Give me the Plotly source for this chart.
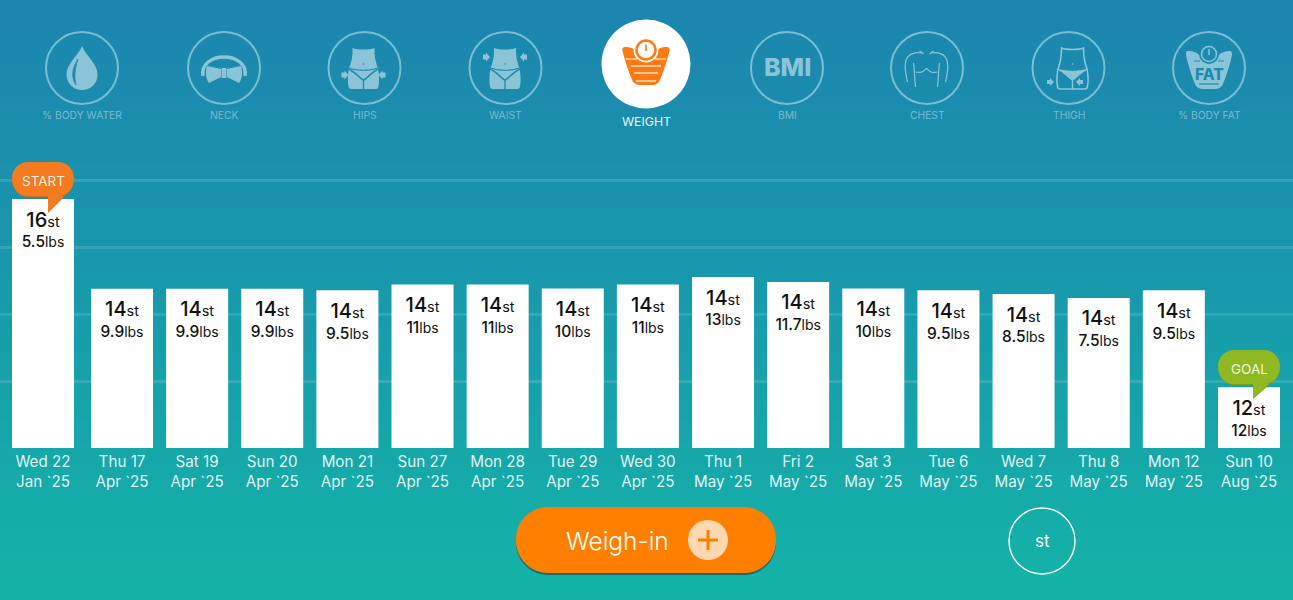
import numpy as np
import plotly.graph_objects as go

# ---- data ----
day_labels = ["Wed 22", "Thu 17", "Sat 19", "Sun 20", "Mon 21", "Sun 27", "Mon 28", "Tue 29", "Wed 30",
              "Thu 1", "Fri 2", "Sat 3", "Tue 6", "Wed 7", "Thu 8", "Mon 12", "Sun 10"]
month_labels = ["Jan `25", "Apr `25", "Apr `25", "Apr `25", "Apr `25", "Apr `25", "Apr `25", "Apr `25", "Apr `25",
                "May `25", "May `25", "May `25", "May `25", "May `25", "May `25", "May `25", "Aug `25"]
stones = [16, 14, 14, 14, 14, 14, 14, 14, 14, 14, 14, 14, 14, 14, 14, 14, 12]
pounds = [5.5, 9.9, 9.9, 9.9, 9.5, 11, 11, 10, 11, 13, 11.7, 10, 9.5, 8.5, 7.5, 9.5, 12]
icon_labels = ["% BODY WATER", "NECK", "HIPS", "WAIST", "WEIGHT", "BMI", "CHEST", "THIGH", "% BODY FAT"]

W, H = 1293, 600
totals = [s * 14 + p for s, p in zip(stones, pounds)]
PX_PER_LB = 3.8
BASE_LB = 164
BASE_PX = 448
TOP_PX = 170
FONT = "Inter"
PALE = "rgb(140,196,215)"
RING = "rgb(125,188,208)"
ORANGE = "#FF8000"

bar_x = [43] + [122 + 75.13 * i for i in range(15)] + [1249]
grid_vals = [BASE_LB + i * 66.8 / PX_PER_LB for i in range(5)]

def fmt(v):
    return f"{v:g}"

st_text = [f'<span style="font-size:20px;font-weight:500">{s}</span><span style="font-size:14.5px">st</span>' for s in stones]
lb_text = [f'<span style="font-size:15.5px;font-weight:500">{fmt(p)}</span><span style="font-size:14px">lbs</span>' for p in pounds]
tick_text = [f"{d}<br>{m}" for d, m in zip(day_labels, month_labels)]

fig = go.Figure()

# background gradient on a full-figure pixel layer
rows = 300
t = np.linspace(0, 1, rows)
fig.add_trace(go.Heatmap(
    x=[0, W], y=np.linspace(0, H, rows), z=[[v, v] for v in t], xaxis="x", yaxis="y",
    colorscale=[[0, "rgb(28,133,174)"], [0.5, "rgb(24,154,172)"], [1, "rgb(20,180,167)"]],
    showscale=False, hoverinfo="skip"))

fig.add_trace(go.Bar(
    x=bar_x, y=totals, width=62, xaxis="x2", yaxis="y2", marker=dict(color="white", line_width=0),
    hoverinfo="skip", showlegend=False))

# value labels sit a fixed pixel distance under each bar top
for offset_px, labels, size in [(22.5, st_text, 20), (44.5, lb_text, 15.5)]:
    fig.add_trace(go.Scatter(
        x=bar_x, y=[v - offset_px / PX_PER_LB for v in totals], mode="text", text=labels, textposition="middle center",
        textfont=dict(family=FONT, size=size, color="#111111"), xaxis="x2", yaxis="y2", hoverinfo="skip",
        showlegend=False, cliponaxis=False))

shapes, annos = [], []

def path(d, fill=None, line=None, lw=0, layer="above"):
    shapes.append(dict(type="path", path=d, xref="x", yref="y", layer=layer,
                       fillcolor=fill if fill else "rgba(0,0,0,0)",
                       line=dict(color=line if line else "rgba(0,0,0,0)", width=lw)))

def text(x, y, s, size, color="white", weight=None):
    if weight:
        s = f'<span style="font-weight:{weight}">{s}</span>'
    annos.append(dict(x=x, y=y, xref="x", yref="y", text=s, showarrow=False, xanchor="center", yanchor="middle",
                      font=dict(family=FONT, size=size, color=color)))

def circle(cx, cy, r, fill=None, line=None, lw=0):
    shapes.append(dict(type="circle", xref="x", yref="y", x0=cx - r, x1=cx + r, y0=cy - r, y1=cy + r, layer="above",
                       fillcolor=fill if fill else "rgba(0,0,0,0)",
                       line=dict(color=line if line else "rgba(0,0,0,0)", width=lw)))

def shift(d, cx, cy):
    out, is_x = [], True
    for tok in d.split():
        if tok.isalpha():
            out.append(tok); is_x = True
        else:
            v = float(tok) + (cx if is_x else cy)
            out.append(f"{v:.2f}"); is_x = not is_x
    return " ".join(out)

def rel(cx, cy, d, **kw):
    path(shift(d, cx, cy), **kw)

def pill(x0, y0, x1, y1, r, **kw):
    k = r * 0.45
    d = (f"M {x0+r} {y0} L {x1-r} {y0} C {x1-k} {y0} {x1} {y0+k} {x1} {y0+r} L {x1} {y1-r} "
         f"C {x1} {y1-k} {x1-k} {y1} {x1-r} {y1} L {x0+r} {y1} C {x0+k} {y1} {x0} {y1-k} {x0} {y1-r} "
         f"L {x0} {y0+r} C {x0} {y0+k} {x0+k} {y0} {x0+r} {y0} Z")
    path(d, **kw)

ICON_BG = "rgb(27,140,174)"
BODY = ("M -11 -20 C -6 -18 6 -18 11 -20 C 11 -14 11 -10 13 -4 C 16 3 16 14 15 18 C 15 20 14 21 12 21 "
        "L -12 21 C -14 21 -15 20 -15 18 C -16 14 -16 3 -13 -4 C -11 -10 -11 -14 -11 -20 Z")

def body_details(cx, cy):
    rel(cx, cy, "M -14 0 C -7 3 7 3 14 0", line=ICON_BG, lw=1.2)
    rel(cx, cy, "M -15 1 C -8 4 -3 11 0 12 C 3 11 8 4 15 1", line=ICON_BG, lw=1.5)
    rel(cx, cy, "M 0 12 L 0 21", line=ICON_BG, lw=1.3)
    circle(cx, cy - 4, 0.8, fill=ICON_BG)

def arrows(cx, cy, dx, color=PALE):
    rel(cx, cy, f"M {-dx-3} -2.5 L {-dx} -2.5 L {-dx} -4.5 L {-dx+4} 0 L {-dx} 4.5 L {-dx} 2.5 L {-dx-3} 2.5 Z", fill=color)
    rel(cx, cy, f"M {dx+3} -2.5 L {dx} -2.5 L {dx} -4.5 L {dx-4} 0 L {dx} 4.5 L {dx} 2.5 L {dx+3} 2.5 Z", fill=color)

icon_x = [82, 224, 364.5, 505.5, 646, 787, 927, 1068.5, 1209]
ICON_Y = 68
for i, (x, lab) in enumerate(zip(icon_x, icon_labels)):
    if i == 4:
        circle(x, 64, 44.5, fill="white")
        text(x, 121, lab, 12.3, "rgba(255,255,255,0.95)")
    else:
        circle(x, ICON_Y, 36, line=RING, lw=2)
        text(x, 115, lab, 10.3, "rgba(255,255,255,0.42)")

# % body water
cx = icon_x[0]
rel(cx, ICON_Y, "M 0 -22 C -4 -12 -16 -4 -15.5 7 C -15 16 -8 22 0 22 C 8 22 15.5 16 15.5 7 C 16 -4 4 -12 0 -22 Z", fill=PALE)
rel(cx, ICON_Y, "M -4 -9 C -9 -1 -12 8 -6 17 C -8 8 -7 0 -4 -9 Z", fill=ICON_BG, line=ICON_BG, lw=0.8)

# neck
cx = icon_x[1]
rel(cx, ICON_Y, "M -21 8 C -23 -4 -12 -11 0 -11 C 12 -11 23 -4 21 8", line=PALE, lw=3.5)
rel(cx, ICON_Y, "M -3 1 L -17 -2 C -19 5 -18 11 -15 15 L -3 9 Z", fill=PALE)
rel(cx, ICON_Y, "M 3 1 L 17 -2 C 19 5 18 11 15 15 L 3 9 Z", fill=PALE)
rel(cx, ICON_Y, "M -2.5 0 L 2.5 0 L 2.5 10 L -2.5 10 Z", fill=PALE)

# hips
cx = icon_x[2] - 1
rel(cx, ICON_Y, BODY, fill=PALE)
body_details(cx, ICON_Y)
arrows(cx, ICON_Y + 7, 19)

# waist
cx = icon_x[3] - 0.5
rel(cx, ICON_Y, BODY, fill=PALE)
body_details(cx, ICON_Y)
arrows(cx, ICON_Y - 11, 19)

# weight (selected)
cx = icon_x[4]
rel(cx, 64, "M -21 -17 C -16 -17 -10 -15 -8 -12 L 8 -12 C 10 -15 16 -17 21 -17 C 23 -17 24 -16 23.5 -13 C 21 -3 16 12 13 18 "
            "C 11 20 9 21 6 21 L -6 21 C -9 21 -11 20 -13 18 C -16 12 -21 -3 -23.5 -13 C -24 -16 -23 -17 -21 -17 Z", fill="#FF7A12")
for yy, half in [(2, 15), (9, 12), (17, 10)]:
    rel(cx, 64, f"M {-half} {yy} L {half} {yy}", line="rgba(255,235,215,1)", lw=1.4)
rel(cx, 64, "M -20 -5 L -9 -5", line="rgba(255,235,215,1)", lw=1.2)
rel(cx, 64, "M 9 -5 L 20 -5", line="rgba(255,235,215,1)", lw=1.2)
circle(cx, 50, 12.5, fill="white")
circle(cx, 50, 9.5, fill="white", line="#FF7A12", lw=2.5)
rel(cx, 50, "M 0 -5.5 L 0 1", line="#FF7A12", lw=1.6)

# BMI
text(icon_x[5], 67, "BMI", 25, PALE, 800)

# chest
cx = icon_x[6] - 0.5
for s in (-1, 1):
    rel(cx, ICON_Y, f"M {s*3} -14 L {s*7} -17", line=PALE, lw=1.2)
    rel(cx, ICON_Y, f"M {s*5} -15 C {s*10} -16 {s*20} -15 {s*21} -5 C {s*22} 3 {s*20} 9 {s*19} 14", line=PALE, lw=1.2)
    rel(cx, ICON_Y, f"M {s*13} -5 C {s*12} 2 {s*12} 10 {s*11} 19", line=PALE, lw=1.2)
    rel(cx, ICON_Y, f"M {s*11} 4 C {s*7} 5 {s*3} 5 0 0", line=PALE, lw=1.2)

# thigh
cx = icon_x[7] + 4
rel(cx, ICON_Y, BODY, line=PALE, lw=1.6)
rel(cx, ICON_Y, "M -15 1 C -7 4 7 4 15 1 C 8 5 3 11 0 12 C -3 11 -8 5 -15 1 Z", fill=PALE, line=PALE, lw=1)
rel(cx, ICON_Y, "M 0 12 L 0 21", line=PALE, lw=1.4)
circle(cx, ICON_Y - 4, 0.8, fill=PALE)
rel(cx - 21.5, ICON_Y + 14, "M -4 -2 L -1 -2 L -1 -4 L 3 0 L -1 4 L -1 2 L -4 2 Z", fill=PALE)
rel(cx + 6.5, ICON_Y + 14, "M 4 -2 L 1 -2 L 1 -4 L -3 0 L 1 4 L 1 2 L 4 2 Z", fill=PALE)

# % body fat
cx = icon_x[8]
rel(cx, ICON_Y, "M -21 -17 C -16 -17 -13 -16 -10 -13 L 10 -13 C 13 -16 16 -17 21 -17 C 23 -17 23 -15 23 -13 C 21 -3 16 12 13 18 "
                "C 11 20 9 21 6 21 L -6 21 C -9 21 -11 20 -13 18 C -16 12 -21 -3 -23 -13 C -23 -15 -23 -17 -21 -17 Z", fill=PALE)
circle(cx, ICON_Y - 14, 10, fill=ICON_BG)
circle(cx, ICON_Y - 14, 7.5, fill=ICON_BG, line=PALE, lw=1.5)
rel(cx, ICON_Y - 14, "M 0 -5 L 0 1", line=PALE, lw=1.5)
rel(cx, ICON_Y, "M -15 -7 L -9 -7", line=ICON_BG, lw=1)
rel(cx, ICON_Y, "M 9 -7 L 15 -7", line=ICON_BG, lw=1)
rel(cx, ICON_Y, "M -10 16 L 10 16", line=ICON_BG, lw=1.2)
text(cx, ICON_Y + 6.5, "FAT", 15.5, ICON_BG, 800)

# START / GOAL bubbles
def bubble(x0, y0, x1, y1, tx, ty, color, shade, label):
    mid = (x0 + x1) / 2
    r = 16
    k = r * 0.45
    tail_l, tail_r = tx, tx + 16
    d = (f"M {x0+r} {y0} L {x1-r} {y0} C {x1-k} {y0} {x1} {y0+k} {x1} {y0+r} C {x1} {y1-k} {x1-k} {y1} {x1-r} {y1} "
         f"L {tail_r} {y1} L {tx} {ty} L {tail_l} {y1} L {x0+r} {y1} C {x0+k} {y1} {x0} {y1-k} {x0} {y0+r} "
         f"C {x0} {y0+k} {x0+k} {y0} {x0+r} {y0} Z")
    path(shift(d, 0, 1), fill=shade)
    path(d, fill=color)
    text(mid, (y0 + y1) / 2 + 1.5, label, 13.5, "rgba(255,255,255,0.9)")

bubble(12, 162, 74, 196, 48, 212, "#F47B20", "#D9661A", "START")
bubble(1218, 350, 1280, 384, 1253, 398, "#8FB822", "#7CA01C", "GOAL")

# weigh-in button
pill(516, 510, 776, 575, 32, fill="#1F6A6E")
pill(516, 507, 776, 573, 32, fill=ORANGE)
text(617, 541, "Weigh-in", 24.5, "white", 300)
circle(708, 540, 20, fill="rgb(255,216,178)")
path("M 698 540 L 718 540", line=ORANGE, lw=3)
path("M 708 530 L 708 550", line=ORANGE, lw=3)

# unit switch
circle(1042, 541, 33, line="white", lw=1.4)
text(1042, 541, "st", 17, "white")

fig.update_layout(
    width=W, height=H, margin=dict(l=0, r=0, t=0, b=0, pad=0),
    paper_bgcolor="rgb(24,154,172)", plot_bgcolor="rgba(0,0,0,0)", showlegend=False,
    font=dict(family=FONT), shapes=shapes, annotations=annos, barmode="overlay",
    xaxis=dict(domain=[0, 1], range=[0, W], visible=False, fixedrange=True),
    yaxis=dict(domain=[0, 1], range=[H, 0], visible=False, fixedrange=True),
    xaxis2=dict(domain=[0, 1], range=[0, W], anchor="y2", tickmode="array", tickvals=bar_x, ticktext=tick_text,
                tickfont=dict(family=FONT, size=15.2, color="rgba(255,255,255,0.88)"), showgrid=False, zeroline=False,
                showline=False, ticks="", tickangle=0, ticklabelstandoff=3, fixedrange=True),
    yaxis2=dict(domain=[1 - BASE_PX / H, 1 - TOP_PX / H], range=[BASE_LB, BASE_LB + (BASE_PX - TOP_PX) / PX_PER_LB],
                anchor="x2", tickmode="array", tickvals=grid_vals, showticklabels=False, ticks="", showline=False,
                zeroline=False, showgrid=True, gridcolor="rgba(255,255,255,0.13)", gridwidth=3, fixedrange=True),
)

fig.write_html("out.html", config=dict(displayModeBar=False),
               post_script="document.body.style.margin='0';")
